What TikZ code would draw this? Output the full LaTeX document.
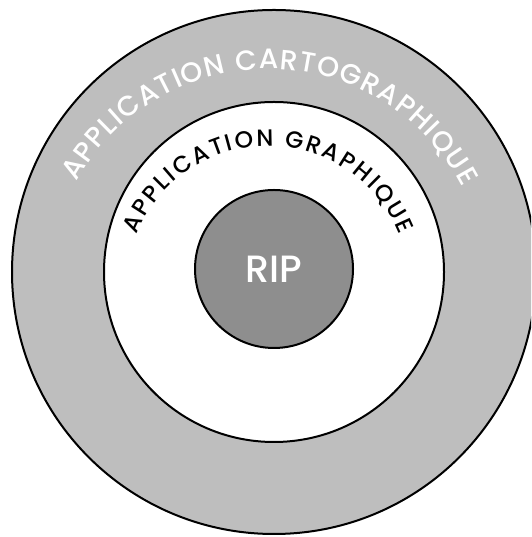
\documentclass[tikz,border=0pt]{standalone}
\usepackage{fontspec}
\setmainfont{Poppins}
\newfontfamily\comicf{Poppins Medium}
\usetikzlibrary{decorations.text}
\definecolor{ringgray}{HTML}{BEBEBE}
\definecolor{coregray}{HTML}{8E8E8E}
\tikzset{
  ring/.style={circle, draw=black, line width=2pt, inner sep=0pt},
}
\begin{document}
\begin{tikzpicture}[x=1pt,y=1pt]
\useasboundingbox (0,0) rectangle (531,537);
\clip (0,0) rectangle (531,537);
\fill[white] (0,0) rectangle (531,537);
\node[ring, fill=ringgray, minimum size=524pt] (outer) at (274,265) {};
\node[ring, fill=white, minimum size=340pt] (middle) at (274,265) {};
\node[ring, fill=coregray, minimum size=158pt, font=\comicf\fontsize{38}{38}\selectfont, text=white] (core) at (274,268) {RIP};
\coordinate (arcc) at (268,249);
\path[decorate, decoration={text along path, text align={fit to path},
  text={|\comicf\fontsize{28}{28}\selectfont\color{white}|APPLICATION CARTOGRAPHIQUE}}]
  (arcc) ++(151:219) arc[start angle=151, end angle=27.5, radius=219];
\path[decorate, decoration={text along path, text align={fit to path},
  text={|\comicf\fontsize{23.5}{23.5}\selectfont\color{black}|APPLICATION GRAPHIQUE}}]
  (arcc) ++(158:142) arc[start angle=158, end angle=22, radius=142];
\end{tikzpicture}
\end{document}
